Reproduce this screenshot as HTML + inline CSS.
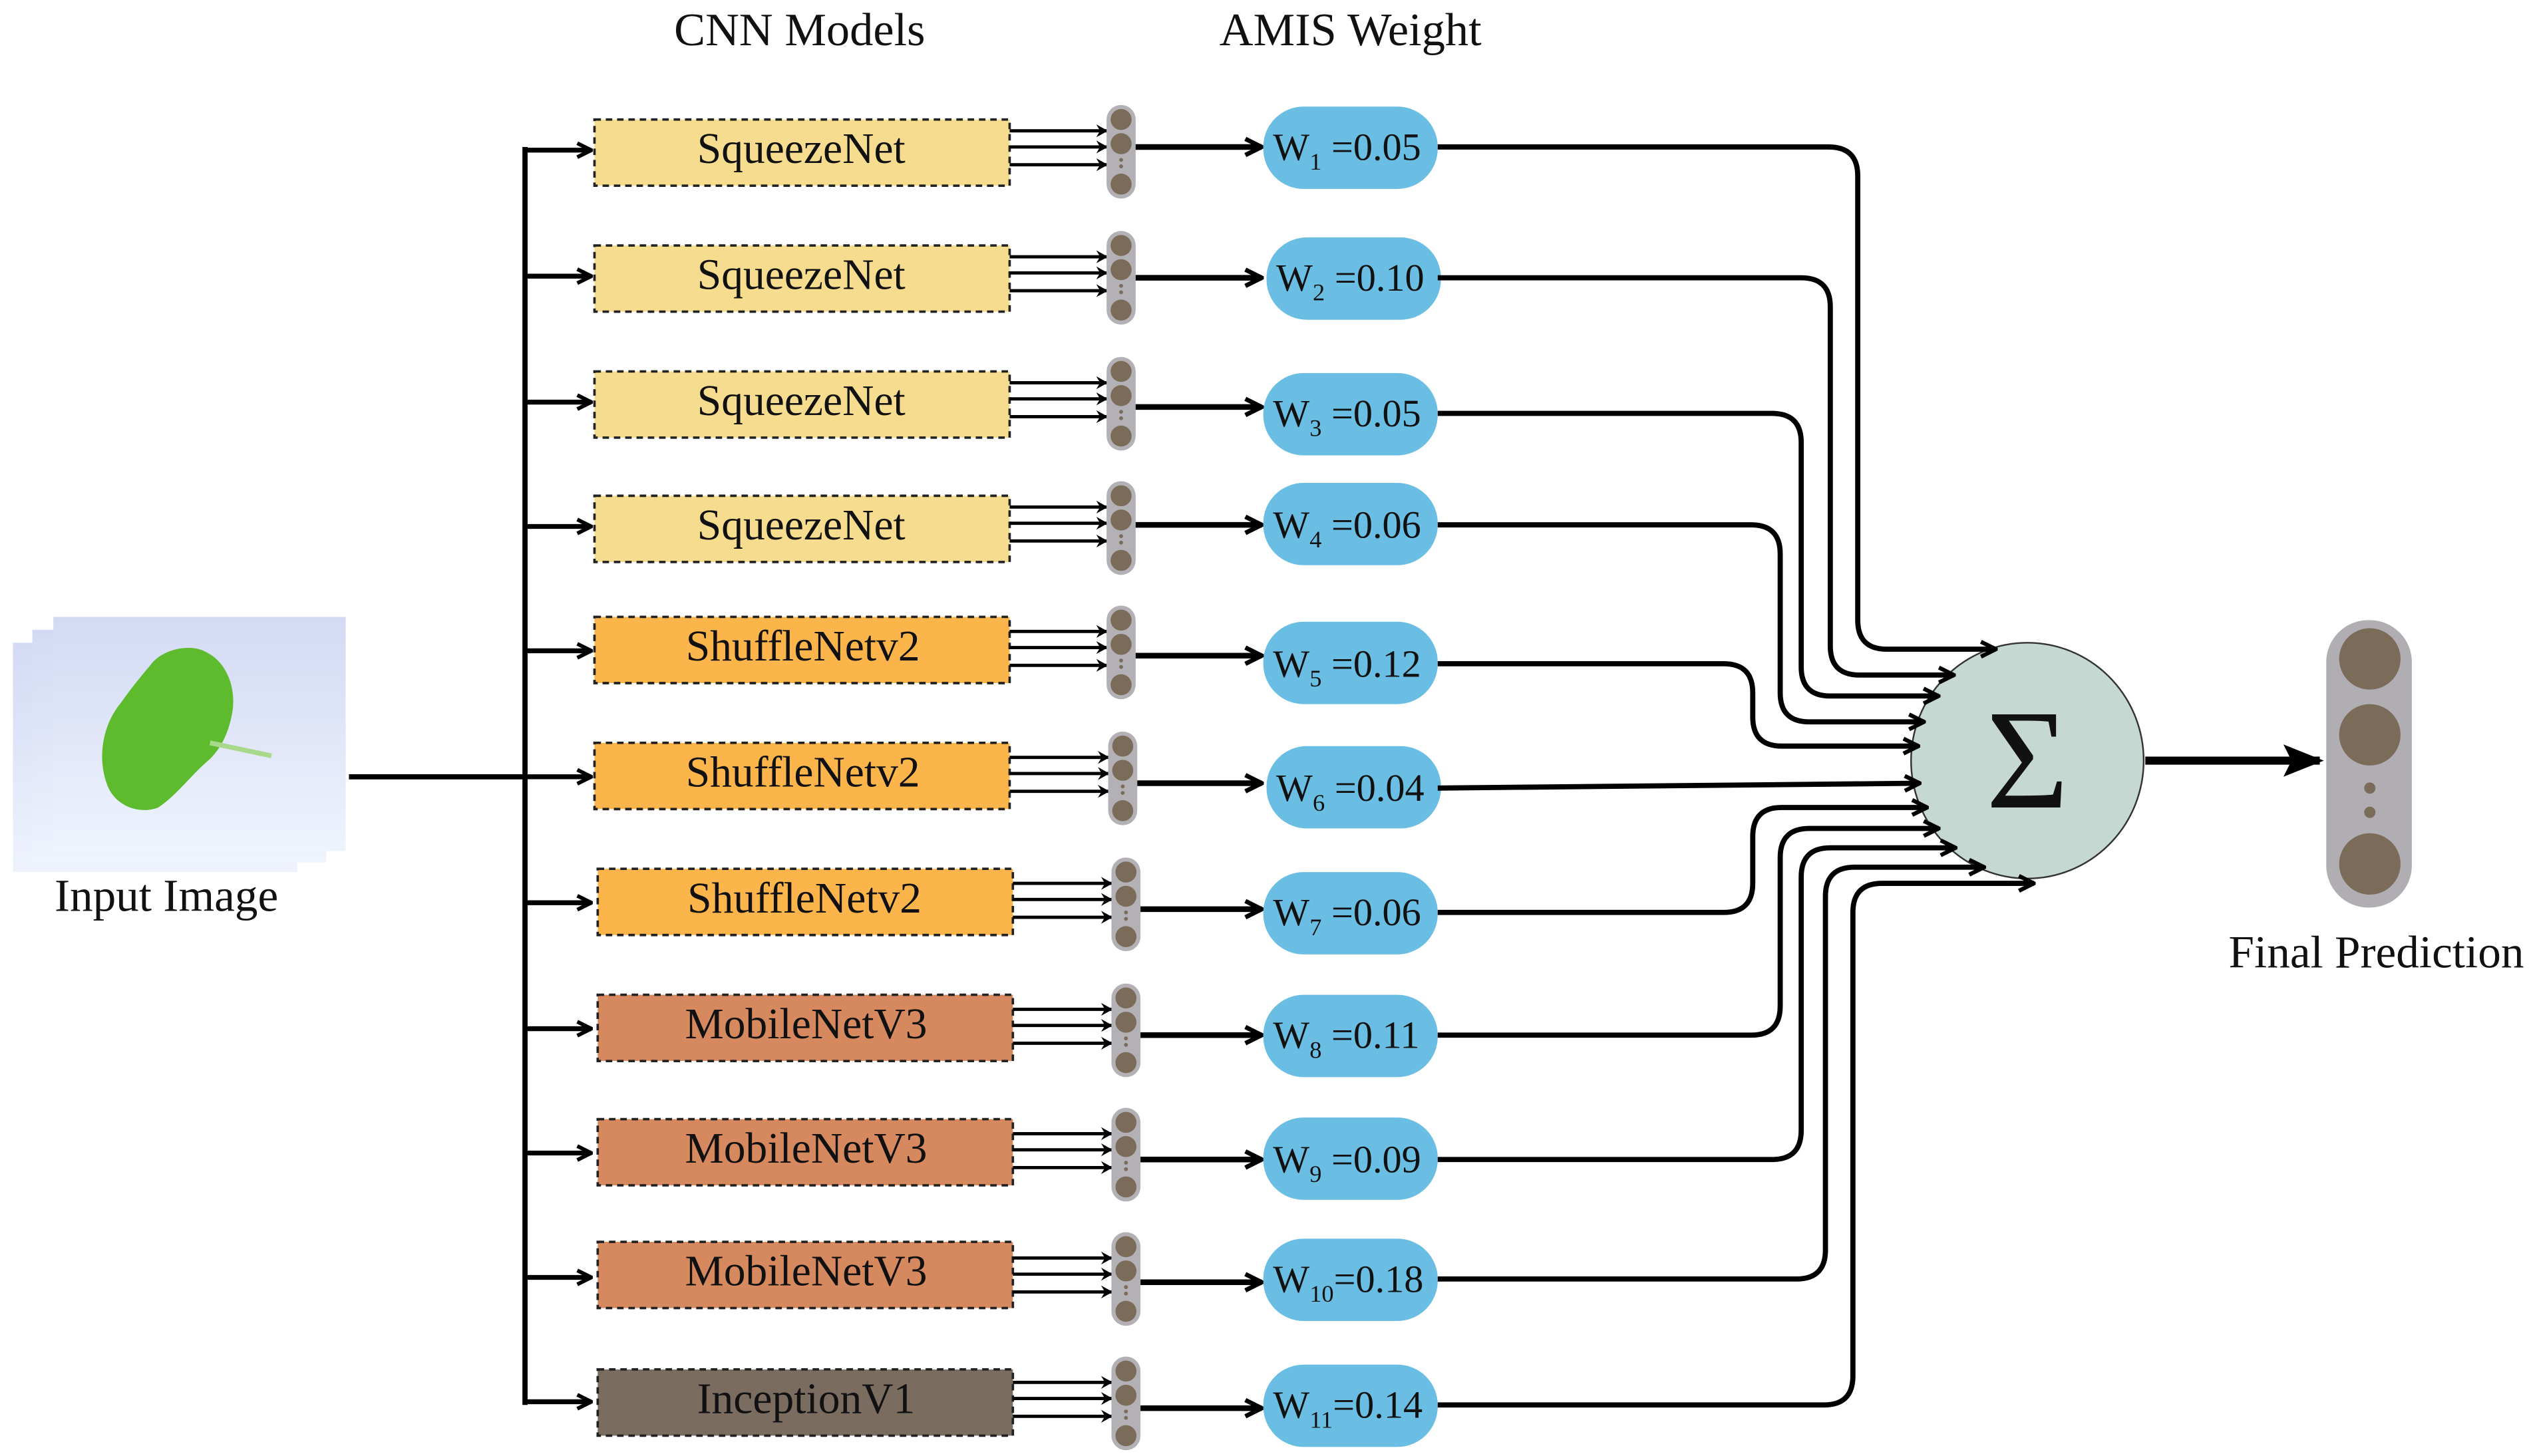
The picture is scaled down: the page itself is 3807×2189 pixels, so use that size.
<!DOCTYPE html>
<html><head><meta charset="utf-8"><style>
html,body{margin:0;padding:0;background:#fff;}
svg{display:block;}
text{font-family:"Liberation Serif",serif;fill:#111;}
</style></head><body>
<svg width="3807" height="2189" viewBox="0 0 1568 901.6" preserveAspectRatio="none" xmlns="http://www.w3.org/2000/svg">
<defs>
<marker id="ah" viewBox="0 0 10 10" refX="9" refY="5" markerWidth="4" markerHeight="4" orient="auto" markerUnits="strokeWidth"><path d="M1,0 L10,5 L1,10 L4,5 Z" fill="#000"/></marker>
<marker id="ao" viewBox="0 0 10 10" refX="9" refY="5" markerWidth="3.6" markerHeight="3.6" orient="auto" markerUnits="strokeWidth"><path d="M1,1 L9,5 L1,9" fill="none" stroke="#000" stroke-width="2.2"/></marker>
<marker id="as" viewBox="0 0 10 10" refX="9" refY="5" markerWidth="5" markerHeight="5" orient="auto" markerUnits="strokeWidth"><path d="M0,1 L10,5 L0,9 L2,5 Z" fill="#000"/></marker>
<linearGradient id="bg" x1="0" y1="0" x2="0" y2="1"><stop offset="0" stop-color="#d3daf4"/><stop offset="1" stop-color="#eef3fd"/></linearGradient>
</defs>

<text x="495" y="28" font-size="29" text-anchor="middle">CNN Models</text>
<text x="836" y="28" font-size="29" text-anchor="middle">AMIS Weight</text>

<!-- input image -->
<rect x="8" y="398" width="176" height="142" fill="url(#bg)"/>
<rect x="20" y="390" width="182" height="144" fill="url(#bg)"/>
<rect x="33" y="382" width="181" height="145" fill="url(#bg)"/>
<path d="M93,412 C100,402 118,398 128,404 C140,410 146,425 144,440 C142,452 138,462 130,470 C118,480 110,492 98,500 C85,505 70,498 66,485 C60,468 64,448 75,435 C82,425 88,418 93,412 Z" fill="#5fbb2e"/>
<path d="M130,460 L168,468" stroke="#a8d88a" stroke-width="3"/>
<text x="103" y="564" font-size="28.5" text-anchor="middle">Input Image</text>

<!-- bus -->
<g stroke="#000" stroke-width="3.2" fill="none">
<line x1="216" y1="481" x2="325" y2="481"/>
<line x1="325" y1="91" x2="325" y2="870"/>
</g>
<g stroke="#000" stroke-width="3" fill="none" marker-end="url(#ao)">
<line x1="324" y1="93" x2="366" y2="93"/>
<line x1="324" y1="171" x2="366" y2="171"/>
<line x1="324" y1="249" x2="366" y2="249"/>
<line x1="324" y1="326" x2="366" y2="326"/>
<line x1="324" y1="403" x2="366" y2="403"/>
<line x1="324" y1="481" x2="366" y2="481"/>
<line x1="324" y1="559" x2="366" y2="559"/>
<line x1="324" y1="637" x2="366" y2="637"/>
<line x1="324" y1="714" x2="366" y2="714"/>
<line x1="324" y1="791" x2="366" y2="791"/>
<line x1="324" y1="868" x2="366" y2="868"/>
</g>

<!-- model boxes -->
<g stroke="#222" stroke-width="1.5" stroke-dasharray="4,3">
<rect x="368" y="74" width="257" height="41" fill="#f6dc8e"/>
<rect x="368" y="152" width="257" height="41" fill="#f6dc8e"/>
<rect x="368" y="230" width="257" height="41" fill="#f6dc8e"/>
<rect x="368" y="307" width="257" height="41" fill="#f6dc8e"/>
<rect x="368" y="382" width="257" height="41" fill="#fbb54a"/>
<rect x="368" y="460" width="257" height="41" fill="#fbb54a"/>
<rect x="370" y="538" width="257" height="41" fill="#fbb54a"/>
<rect x="370" y="616" width="257" height="41" fill="#d6895f"/>
<rect x="370" y="693" width="257" height="41" fill="#d6895f"/>
<rect x="370" y="769" width="257" height="41" fill="#d6895f"/>
<rect x="370" y="848" width="257" height="41" fill="#7a6c5e"/>
</g>
<g font-size="27" text-anchor="middle">
<text x="496" y="101">SqueezeNet</text>
<text x="496" y="179">SqueezeNet</text>
<text x="496" y="257">SqueezeNet</text>
<text x="496" y="334">SqueezeNet</text>
<text x="497" y="409">ShuffleNetv2</text>
<text x="497" y="487">ShuffleNetv2</text>
<text x="498" y="565">ShuffleNetv2</text>
<text x="499" y="643">MobileNetV3</text>
<text x="499" y="720">MobileNetV3</text>
<text x="499" y="796">MobileNetV3</text>
<text x="499" y="875">InceptionV1</text>
</g>

<g id="rows"></g>
<script>
(function(){
var ns="http://www.w3.org/2000/svg";
var g=document.getElementById("rows");
var rows=[[93,625,694,91],[171,625,694,172],[249,625,694,252],[326,625,694,325],[403,625,694,406],[481,625,695,485],[559,627,697,563],[637,627,697,641],[714,627,697,718],[791,627,697,794],[868,627,697,872]];
function el(t,a){var e=document.createElementNS(ns,t);for(var k in a)e.setAttribute(k,a[k]);g.appendChild(e);return e;}
rows.forEach(function(r){
 var y=r[0],x0=r[1],cx=r[2],wy=r[3];
 [-12,-2,9].forEach(function(d){el("line",{x1:x0,y1:y+d,x2:cx-9,y2:y+d,stroke:"#000","stroke-width":2,"marker-end":"url(#ah)"});});
 el("rect",{x:cx-9,y:y-28,width:18,height:58,rx:9,fill:"#b3b1b5"});
 el("circle",{cx:cx,cy:y-19,r:6.5,fill:"#7b6b59"});
 el("circle",{cx:cx,cy:y-4,r:6.5,fill:"#7b6b59"});
 el("circle",{cx:cx,cy:y+21,r:6.5,fill:"#7b6b59"});
 el("circle",{cx:cx,cy:y+6,r:1.2,fill:"#7b6b59"});
 el("circle",{cx:cx,cy:y+10,r:1.2,fill:"#7b6b59"});
 el("line",{x1:cx+9,y1:wy,x2:781,y2:wy,stroke:"#000","stroke-width":3.5,"marker-end":"url(#ao)"});
});
})();
</script>

<g fill="#6bbee3">
<rect x="782" y="66" width="108" height="51" rx="25"/>
<rect x="784" y="147" width="108" height="51" rx="25"/>
<rect x="782" y="231" width="108" height="51" rx="25"/>
<rect x="782" y="299" width="108" height="51" rx="25"/>
<rect x="782" y="385" width="108" height="51" rx="25"/>
<rect x="784" y="462" width="108" height="51" rx="25"/>
<rect x="782" y="540" width="108" height="51" rx="25"/>
<rect x="782" y="616" width="108" height="51" rx="25"/>
<rect x="782" y="692" width="108" height="51" rx="25"/>
<rect x="782" y="767" width="108" height="51" rx="25"/>
<rect x="782" y="845" width="108" height="51" rx="25"/>
</g>
<g font-size="24">
<text x="788" y="99">W<tspan font-size="15" dy="6">1</tspan><tspan dy="-6"> =0.05</tspan></text>
<text x="790" y="180">W<tspan font-size="15" dy="6">2</tspan><tspan dy="-6"> =0.10</tspan></text>
<text x="788" y="264">W<tspan font-size="15" dy="6">3</tspan><tspan dy="-6"> =0.05</tspan></text>
<text x="788" y="333">W<tspan font-size="15" dy="6">4</tspan><tspan dy="-6"> =0.06</tspan></text>
<text x="788" y="419">W<tspan font-size="15" dy="6">5</tspan><tspan dy="-6"> =0.12</tspan></text>
<text x="790" y="496">W<tspan font-size="15" dy="6">6</tspan><tspan dy="-6"> =0.04</tspan></text>
<text x="788" y="573">W<tspan font-size="15" dy="6">7</tspan><tspan dy="-6"> =0.06</tspan></text>
<text x="788" y="649">W<tspan font-size="15" dy="6">8</tspan><tspan dy="-6"> =0.11</tspan></text>
<text x="788" y="726">W<tspan font-size="15" dy="6">9</tspan><tspan dy="-6"> =0.09</tspan></text>
<text x="788" y="800">W<tspan font-size="15" dy="6">10</tspan><tspan dy="-6">=0.18</tspan></text>
<text x="788" y="878">W<tspan font-size="15" dy="6">11</tspan><tspan dy="-6">=0.14</tspan></text>
</g>

<ellipse cx="1255" cy="471" rx="72" ry="73" fill="#c6d8d2" stroke="#333" stroke-width="1"/>
<text x="1255" y="500" font-size="88" text-anchor="middle" font-family="Liberation Serif">Σ</text>

<g id="curves" fill="none" stroke="#000" stroke-width="3.2"></g>
<script>
(function(){
var ns="http://www.w3.org/2000/svg";
var g=document.getElementById("curves");
var c=[[91,1150,402],[172,1133,418],[256,1115,431],[325,1102,447],[411,1085,462],[488,0,485],[565,1085,500],[641,1102,513],[718,1115,525],[792,1130,537],[870,1147,547]];
c.forEach(function(a){
 var yw=a[0],xv=a[1],yt=a[2];
 var dy=(yt-471)/73;var tip=1255-72*Math.sqrt(Math.max(0,1-dy*dy))+4;
 if(yt<=431||yt>=525) tip=Math.max(tip,1200);
 var d;
 if(xv===0){d="M890,"+yw+" L"+tip+","+yt;}
 else{
  var r=18,s=yt>yw?1:-1;
  d="M890,"+yw+" H"+(xv-r)+" Q"+xv+","+yw+" "+xv+","+(yw+s*r)+" V"+(yt-s*r)+" Q"+xv+","+yt+" "+(xv+r)+","+yt+" H"+tip;
 }
 var p=document.createElementNS(ns,"path");p.setAttribute("d",d);p.setAttribute("marker-end","url(#ao)");g.appendChild(p);
});
})();
</script>

<line x1="1328" y1="471" x2="1436" y2="471" stroke="#000" stroke-width="5" marker-end="url(#as)"/>
<rect x="1440" y="384" width="53" height="178" rx="26" fill="#b0aeb2"/>
<ellipse cx="1467" cy="408" rx="19" ry="19" fill="#7b6b59"/>
<ellipse cx="1467" cy="455" rx="19" ry="19" fill="#7b6b59"/>
<ellipse cx="1467" cy="535" rx="19" ry="19" fill="#7b6b59"/>
<circle cx="1467" cy="488" r="3.5" fill="#7b6b59"/>
<circle cx="1467" cy="503" r="3.5" fill="#7b6b59"/>
<text x="1471" y="599" font-size="28.5" text-anchor="middle">Final Prediction</text>
</svg>
</body></html>
